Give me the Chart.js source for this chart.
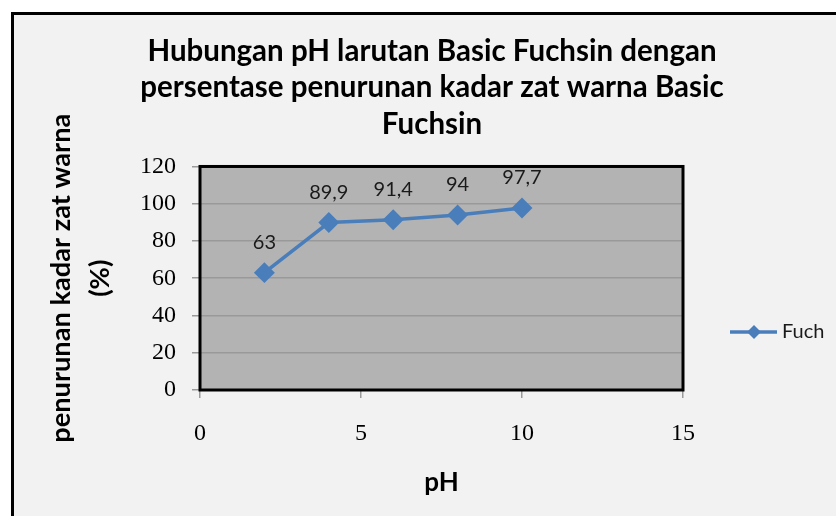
<!DOCTYPE html>
<html>
<head>
<meta charset="utf-8">
<script src="https://cdn.jsdelivr.net/npm/chart.js@4.4.1/dist/chart.umd.min.js"></script>
<style>
  html, body { margin: 0; padding: 0; background: #fff; overflow: hidden; }
  #frame { position: absolute; left: 11px; top: 12px; width: 900px; height: 600px; border: 3px solid #000; background: #f2f2f2; }
  #wrap { position: absolute; left: 0; top: 0; width: 836px; height: 516px; }
</style>
</head>
<body>
<div id="frame"></div>
<div id="wrap"><canvas id="chart" width="836" height="516"></canvas></div>
<script>
const titleLines = ["Hubungan pH larutan Basic Fuchsin dengan", "persentase penurunan kadar zat warna Basic", "Fuchsin"];
const yTitle = ["penurunan kadar zat warna", "(%)"];
const xTitle = "pH";
const seriesName = "Fuch";
const phValues = [2, 4, 6, 8, 10];
const fuchValues = [63, 89.9, 91.4, 94, 97.7];
const xRange = [0, 15, 5];
const yRange = [0, 120, 20];

const lineColor = "#4a7ebb";

// grey plot box with black frame
const plotBox = {
    id: "plotBox",
    beforeDraw(chart) {
        let a = chart.chartArea, ctx = chart.ctx;
        ctx.save();
        ctx.fillStyle = "#b3b3b3";
        ctx.fillRect(a.left, a.top, a.right - a.left, a.bottom - a.top);
        ctx.restore();
    },
    beforeDatasetsDraw(chart) {
        let a = chart.chartArea, ctx = chart.ctx;
        ctx.save();
        ctx.strokeStyle = "#000";
        ctx.lineWidth = 3;
        ctx.strokeRect(a.left, a.top, a.right - a.left, a.bottom - a.top);
        ctx.restore();
    }
};

// value labels above the points, comma decimals
const valueLabels = {
    id: "valueLabels",
    afterDatasetsDraw(chart) {
        let ctx = chart.ctx;
        let meta = chart.getDatasetMeta(0);
        ctx.save();
        ctx.font = "20px Lato";
        ctx.fillStyle = "#1a1a1a";
        ctx.textAlign = "center";
        ctx.textBaseline = "middle";
        meta.data.forEach((pt, i) => {
            ctx.fillText(String(fuchValues[i]).replace(".", ","), pt.x, pt.y - 30);
        });
        ctx.restore();
    }
};

// legend drawn in the space kept free on the right
const sideLegend = {
    id: "sideLegend",
    afterDraw(chart) {
        let ctx = chart.ctx;
        let x = chart.chartArea.right + 47, y = 332;
        ctx.save();
        ctx.strokeStyle = lineColor;
        ctx.lineWidth = 3.5;
        ctx.beginPath();
        ctx.moveTo(x, y);
        ctx.lineTo(x + 47, y);
        ctx.stroke();
        ctx.fillStyle = lineColor;
        ctx.beginPath();
        ctx.moveTo(x + 24 - 7, y);
        ctx.lineTo(x + 24, y - 7);
        ctx.lineTo(x + 24 + 7, y);
        ctx.lineTo(x + 24, y + 7);
        ctx.closePath();
        ctx.fill();
        ctx.font = "20px Lato";
        ctx.fillStyle = "#1a1a1a";
        ctx.textAlign = "left";
        ctx.textBaseline = "middle";
        ctx.fillText(seriesName, x + 52, y);
        ctx.restore();
    }
};

new Chart(document.getElementById("chart").getContext("2d"), {
    type: "scatter",
    data: {
        datasets: [{
            label: seriesName,
            data: phValues.map((x, i) => ({ x, y: fuchValues[i] })),
            showLine: true,
            borderColor: lineColor,
            backgroundColor: lineColor,
            borderWidth: 3.5,
            pointStyle: "rectRot",
            pointRadius: 8,
            pointHoverRadius: 8
        }]
    },
    options: {
        responsive: false,
        animation: false,
        events: [],
        layout: { padding: { top: 0, left: 42, right: 14, bottom: 0 } },
        plugins: {
            legend: { display: false },
            tooltip: { enabled: false },
            title: {
                display: true,
                text: titleLines,
                color: "#000",
                font: { family: "Lato", size: 29.5, weight: "bold", lineHeight: 1.237 },
                padding: { top: 33, bottom: 24 }
            }
        },
        scales: {
            x: {
                type: "linear",
                min: xRange[0], max: xRange[1],
                afterFit(s) { s.height = 126; },
                ticks: { stepSize: xRange[2], color: "#000", padding: 21, font: { family: "Liberation Serif", size: 24 } },
                grid: { drawOnChartArea: false, drawTicks: true, tickLength: 8, tickColor: "#9a9a9a", lineWidth: 1.5 },
                border: { display: false },
                title: { display: true, text: xTitle, color: "#000", padding: { top: 0, bottom: 18 },
                    font: { family: "Lato", size: 26, weight: "bold", lineHeight: 1.2 } }
            },
            y: {
                min: yRange[0], max: yRange[1],
                afterFit(s) { s.width = 158; },
                ticks: { stepSize: yRange[2], color: "#000", padding: 16, font: { family: "Liberation Serif", size: 24 } },
                grid: { color: "#999", lineWidth: 1.5, tickLength: 8, tickColor: "#9a9a9a" },
                border: { display: false },
                title: { display: true, text: yTitle, color: "#000", padding: { top: 0, bottom: 0 },
                    font: { family: "Lato", size: 27.2, weight: "bold", lineHeight: 1.42 } }
            },
            side: {
                position: "right",
                display: true,
                afterFit(s) { s.width = 139; },
                ticks: { display: false },
                grid: { display: false },
                border: { display: false }
            }
        }
    },
    plugins: [plotBox, valueLabels, sideLegend]
});
</script>
</body>
</html>
